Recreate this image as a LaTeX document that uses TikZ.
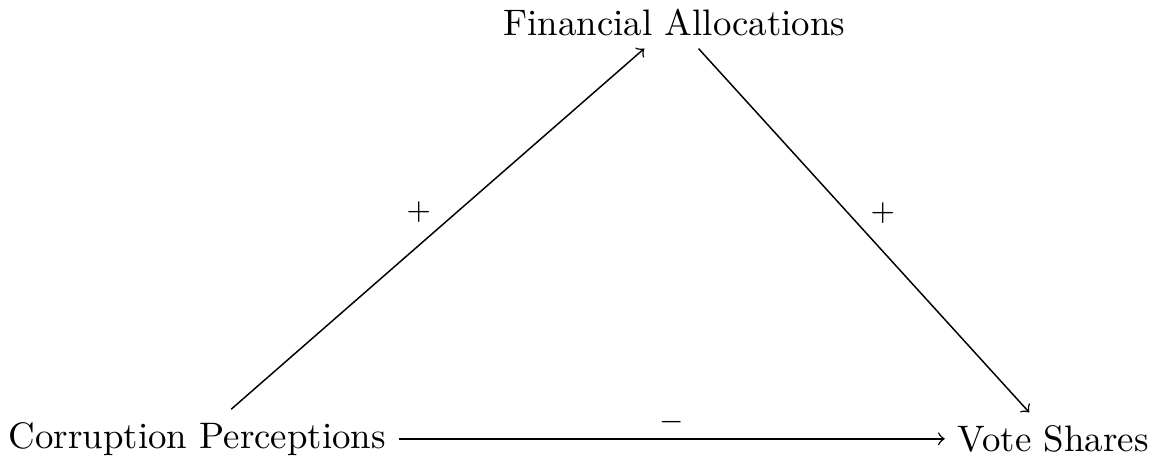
\documentclass[tikz,border=0pt]{standalone}
\begin{document}
\begin{tikzpicture}[x=1pt,y=1pt,
  var/.style={inner sep=3.33pt},
  link/.style={->},
  sign/.style={auto,midway,inner sep=1.6pt,font=\footnotesize}]
\useasboundingbox (0,0) rectangle (313.2,125.3);
\node[var] (cp) at (53.5,6.3) {Corruption Perceptions};
\node[var] (vs) at (285.6,6.3) {Vote Shares};
\node[var] (fa) at (182.9,119.3) {Financial Allocations};
\draw[link] (cp) -- node[sign] {$+$} (fa);
\draw[link] (fa) -- node[sign] {$+$} (vs);
\draw[link] (cp) -- node[sign] {$-$} (vs);
\end{tikzpicture}
\end{document}
